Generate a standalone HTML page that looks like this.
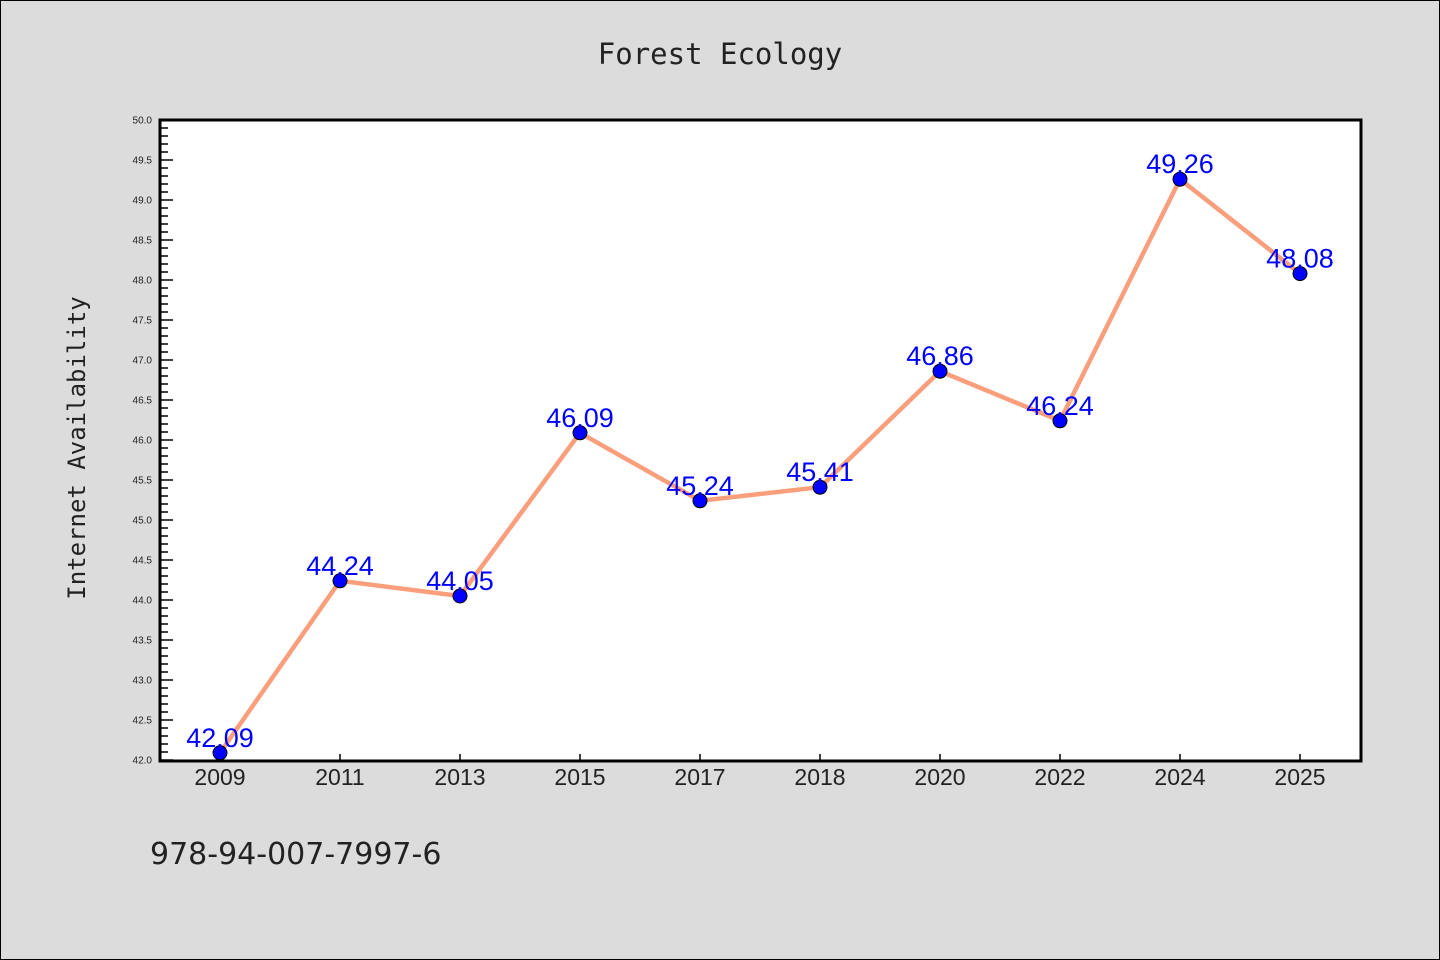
<!DOCTYPE html>
<html><head><meta charset="utf-8"><style>
body{margin:0;background:#dcdcdc;}
svg{display:block;font-family:"Liberation Sans","DejaVu Sans",sans-serif;}
</style></head><body>
<svg id="chart" width="1440" height="960">
<rect x="0.5" y="0.5" width="1439" height="959" fill="#dcdcdc" stroke="#000" stroke-width="1"/>
<text x="720" y="64" text-anchor="middle" font-size="29" font-family="DejaVu Sans Mono, monospace" fill="#222">Forest Ecology</text>
<text transform="translate(85,448) rotate(-90)" text-anchor="middle" font-size="24" font-family="DejaVu Sans Mono, monospace" fill="#222">Internet Availability</text>
<text x="150" y="864" font-size="30" font-family="DejaVu Sans, sans-serif" fill="#222">978-94-007-7997-6</text>
<rect x="160" y="120" width="1201" height="641" fill="#fff"/>
<g id="axes"></g>
<g id="series"></g>
<rect x="160" y="120" width="1201" height="641" fill="none" stroke="#000" stroke-width="3"/>
</svg>
<script>
const categories=["2009","2011","2013","2015","2017","2018","2020","2022","2024","2025"];
const values=[42.09,44.24,44.05,46.09,45.24,45.41,46.86,46.24,49.26,48.08];
const valueLabels=["42.09","44.24","44.05","46.09","45.24","45.41","46.86","46.24","49.26","48.08"];
const yTicks=[42.0,42.5,43.0,43.5,44.0,44.5,45.0,45.5,46.0,46.5,47.0,47.5,48.0,48.5,49.0,49.5,50.0];
const yMin=42,yMax=50;
const NS="http://www.w3.org/2000/svg";
function y(v){return 760-(v-yMin)/(yMax-yMin)*640;}
function x(i){return 220+i*120;}
function mk(tag,attrs,parent){const e=document.createElementNS(NS,tag);for(const k in attrs)e.setAttribute(k,attrs[k]);parent.appendChild(e);return e;}
const ax=document.getElementById('axes'),se=document.getElementById('series');
for(let v=yMin;v<=yMax+1e-9;v+=0.1){
  const l=mk('line',{x1:160,x2:Math.abs(v*2-Math.round(v*2))<1e-6?173:168,y1:y(v),y2:y(v),stroke:'#000','stroke-width':1.5},ax);
  
  
}
yTicks.forEach(t=>{
  const e=mk('text',{x:152,y:y(t)+3.5,'text-anchor':'end','font-size':10,fill:'#222'},ax);
  e.textContent=t.toFixed(1);
  
  
});
categories.forEach((c,i)=>{
  const l=mk('line',{x1:x(i),x2:x(i),y1:761,y2:754,stroke:'#000','stroke-width':1.5},ax);
  
  
  const e=mk('text',{x:x(i),y:785,'text-anchor':'middle','font-size':23,fill:'#222'},ax);
  e.textContent=c;
  
  
});
const line=mk('polyline',{points:values.map((v,i)=>x(i)+','+y(v)).join(' '),fill:'none',stroke:'#fa9e7c','stroke-width':4.5,'stroke-linejoin':'round'},se);


values.forEach((v,i)=>{
  const c=mk('circle',{cx:x(i),cy:y(v),r:7,fill:'#0000ff',stroke:'#000','stroke-width':1},se);
  
  
});
values.forEach((v,i)=>{
  const t=mk('text',{x:x(i),y:y(v)-6,'text-anchor':'middle','font-size':27,fill:'#0000ff'},se);
  t.textContent=valueLabels[i];
  
  
});
</script>
</body></html>
